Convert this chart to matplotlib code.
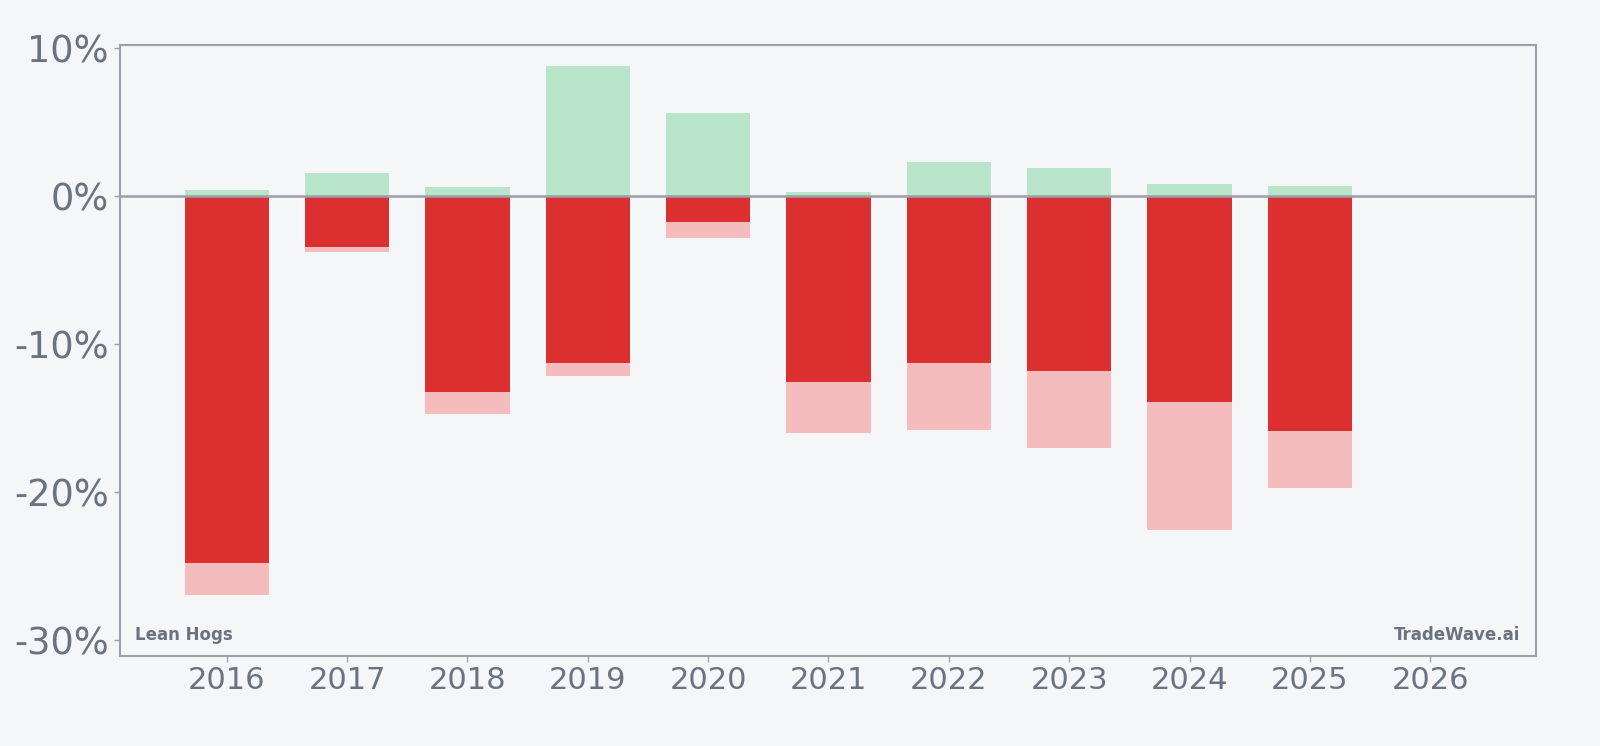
import numpy as np
import matplotlib as mpl
mpl.use('Agg')
import matplotlib.pyplot as plt

# yearly drawdown / run-up figures (percent)
years = [2016, 2017, 2018, 2019, 2020, 2021, 2022, 2023, 2024, 2025]
max_gain = [0.4, 1.57, 0.6, 8.84, 5.66, 0.3, 2.3, 1.9, 0.8, 0.7]
close_loss = [-24.8, -3.4, -13.26, -11.26, -1.76, -12.57, -11.26, -11.8, -13.9, -15.9]
max_loss = [-27.0, -3.74, -14.7, -12.16, -2.84, -16.0, -15.8, -17.0, -22.6, -19.7]
xticks = list(range(2016, 2027))
yticks = [10, 0, -10, -20, -30]

bg = "#f4f6f8"
txt = "#6b7280"
edge = "#9ca0ab"

fig = plt.figure(figsize=(16, 7.46), dpi=100, facecolor=bg)
ax = fig.add_axes([0.075, 0.1206, 0.885, 0.819])
ax.set_facecolor(bg)

ax.bar(years, max_gain, width=0.7, color="#b8e4ca", zorder=2)
ax.bar(years, max_loss, width=0.7, color="#f4bcbc", zorder=2)
ax.bar(years, close_loss, width=0.7, color="#dc3030", zorder=3)
ax.axhline(0, color=edge, lw=1.8, zorder=4)

ax.set_xlim(2015.114, 2026.878)
ax.set_ylim(-31.1, 10.23)
ax.set_xticks(xticks)
ax.set_xticklabels([str(y) for y in xticks], fontsize=22, color=txt)
ax.set_yticks(yticks)
ax.set_yticklabels(["%d%%" % v for v in yticks], fontsize=26.5, color=txt)
ax.tick_params(colors=edge, length=4, width=1)
ax.tick_params(axis='x', labelcolor=txt, pad=3)
ax.tick_params(axis='y', labelcolor=txt, pad=4)
for s in ax.spines.values():
    s.set_color(edge)
    s.set_linewidth(1.5)

ax.text(0.0104, 0.026, "Lean Hogs", transform=ax.transAxes, fontsize=12,
        fontweight="bold", color=txt, ha="left", va="baseline")
ax.text(0.989, 0.026, "TradeWave.ai", transform=ax.transAxes, fontsize=12,
        fontweight="bold", color=txt, ha="right", va="baseline")

fig.savefig("out.png", dpi=100, facecolor=bg)
